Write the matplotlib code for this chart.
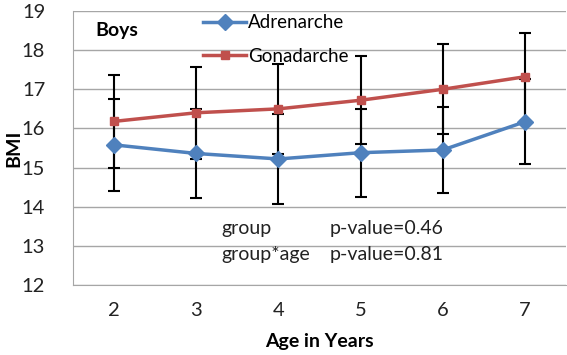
import numpy as np
from matplotlib import pyplot as plt

# data
ages = [2, 3, 4, 5, 6, 7]
adren_mean = [15.58, 15.36, 15.22, 15.38, 15.45, 16.17]
adren_sd = [1.18, 1.14, 1.15, 1.12, 1.10, 1.09]
gonad_mean = [16.18, 16.40, 16.50, 16.72, 17.00, 17.32]
gonad_sd = [1.18, 1.17, 1.15, 1.13, 1.15, 1.13]

plt.rcParams['font.family'] = ['Lato', 'DejaVu Sans']

fig = plt.figure(figsize=(5.67, 3.55), dpi=100)
ax = fig.add_axes([73 / 567, 1 - 285 / 355, 493 / 567, 274 / 355])

x = np.arange(len(ages))
blue = '#4F81BD'
red = '#C0504D'

ax.errorbar(x, adren_mean, yerr=adren_sd, fmt='none', ecolor='black',
			elinewidth=1.5, capsize=4, capthick=1.5, zorder=2)
ax.errorbar(x, gonad_mean, yerr=gonad_sd, fmt='none', ecolor='black',
			elinewidth=1.5, capsize=4, capthick=1.5, zorder=2)
ax.plot(x, adren_mean, color=blue, lw=2.5, marker='D', ms=8,
		label='Adrenarche', zorder=3)
ax.plot(x, gonad_mean, color=red, lw=2.5, marker='s', ms=6,
		label='Gonadarche', zorder=3)

ax.set_xlim(-0.5, len(ages) - 0.5)
ax.set_ylim(12, 19)
ax.set_yticks(range(12, 20))
ax.set_xticks(x)
ax.set_xticklabels([str(a) for a in ages])
ax.tick_params(length=0, labelsize=14.5, colors='#222222', pad=12)
ax.tick_params(axis='y', pad=20)
ax.grid(axis='y', color='#A6A6A6', lw=1)
ax.set_axisbelow(True)
for s in ax.spines.values():
	s.set_color('#A6A6A6')
ax.spines['top'].set_visible(False)
ax.spines['right'].set_visible(False)

ax.set_ylabel('BMI', fontsize=14, fontweight='bold', va='center')
ax.yaxis.set_label_coords(-0.12, 0.5)
ax.set_xlabel('Age in Years', fontsize=14, fontweight='bold', labelpad=10)

ax.text(0.045, 0.93, 'Boys', transform=ax.transAxes, fontsize=14,
		fontweight='bold', va='center')
ax.legend(loc='upper left', bbox_to_anchor=(0.23, 1.05), frameon=False,
		fontsize=13.5, labelspacing=0.9, handlelength=2.3, handletextpad=0.1)

ax.text(1.3, 13.44, 'group', fontsize=14, color='#222222', va='center')
ax.text(2.62, 13.44, 'p-value=0.46', fontsize=14, color='#222222', va='center')
ax.text(1.3, 12.77, 'group*age', fontsize=14, color='#222222', va='center')
ax.text(2.62, 12.77, 'p-value=0.81', fontsize=14, color='#222222', va='center')

fig.savefig('out.png', dpi=100)
